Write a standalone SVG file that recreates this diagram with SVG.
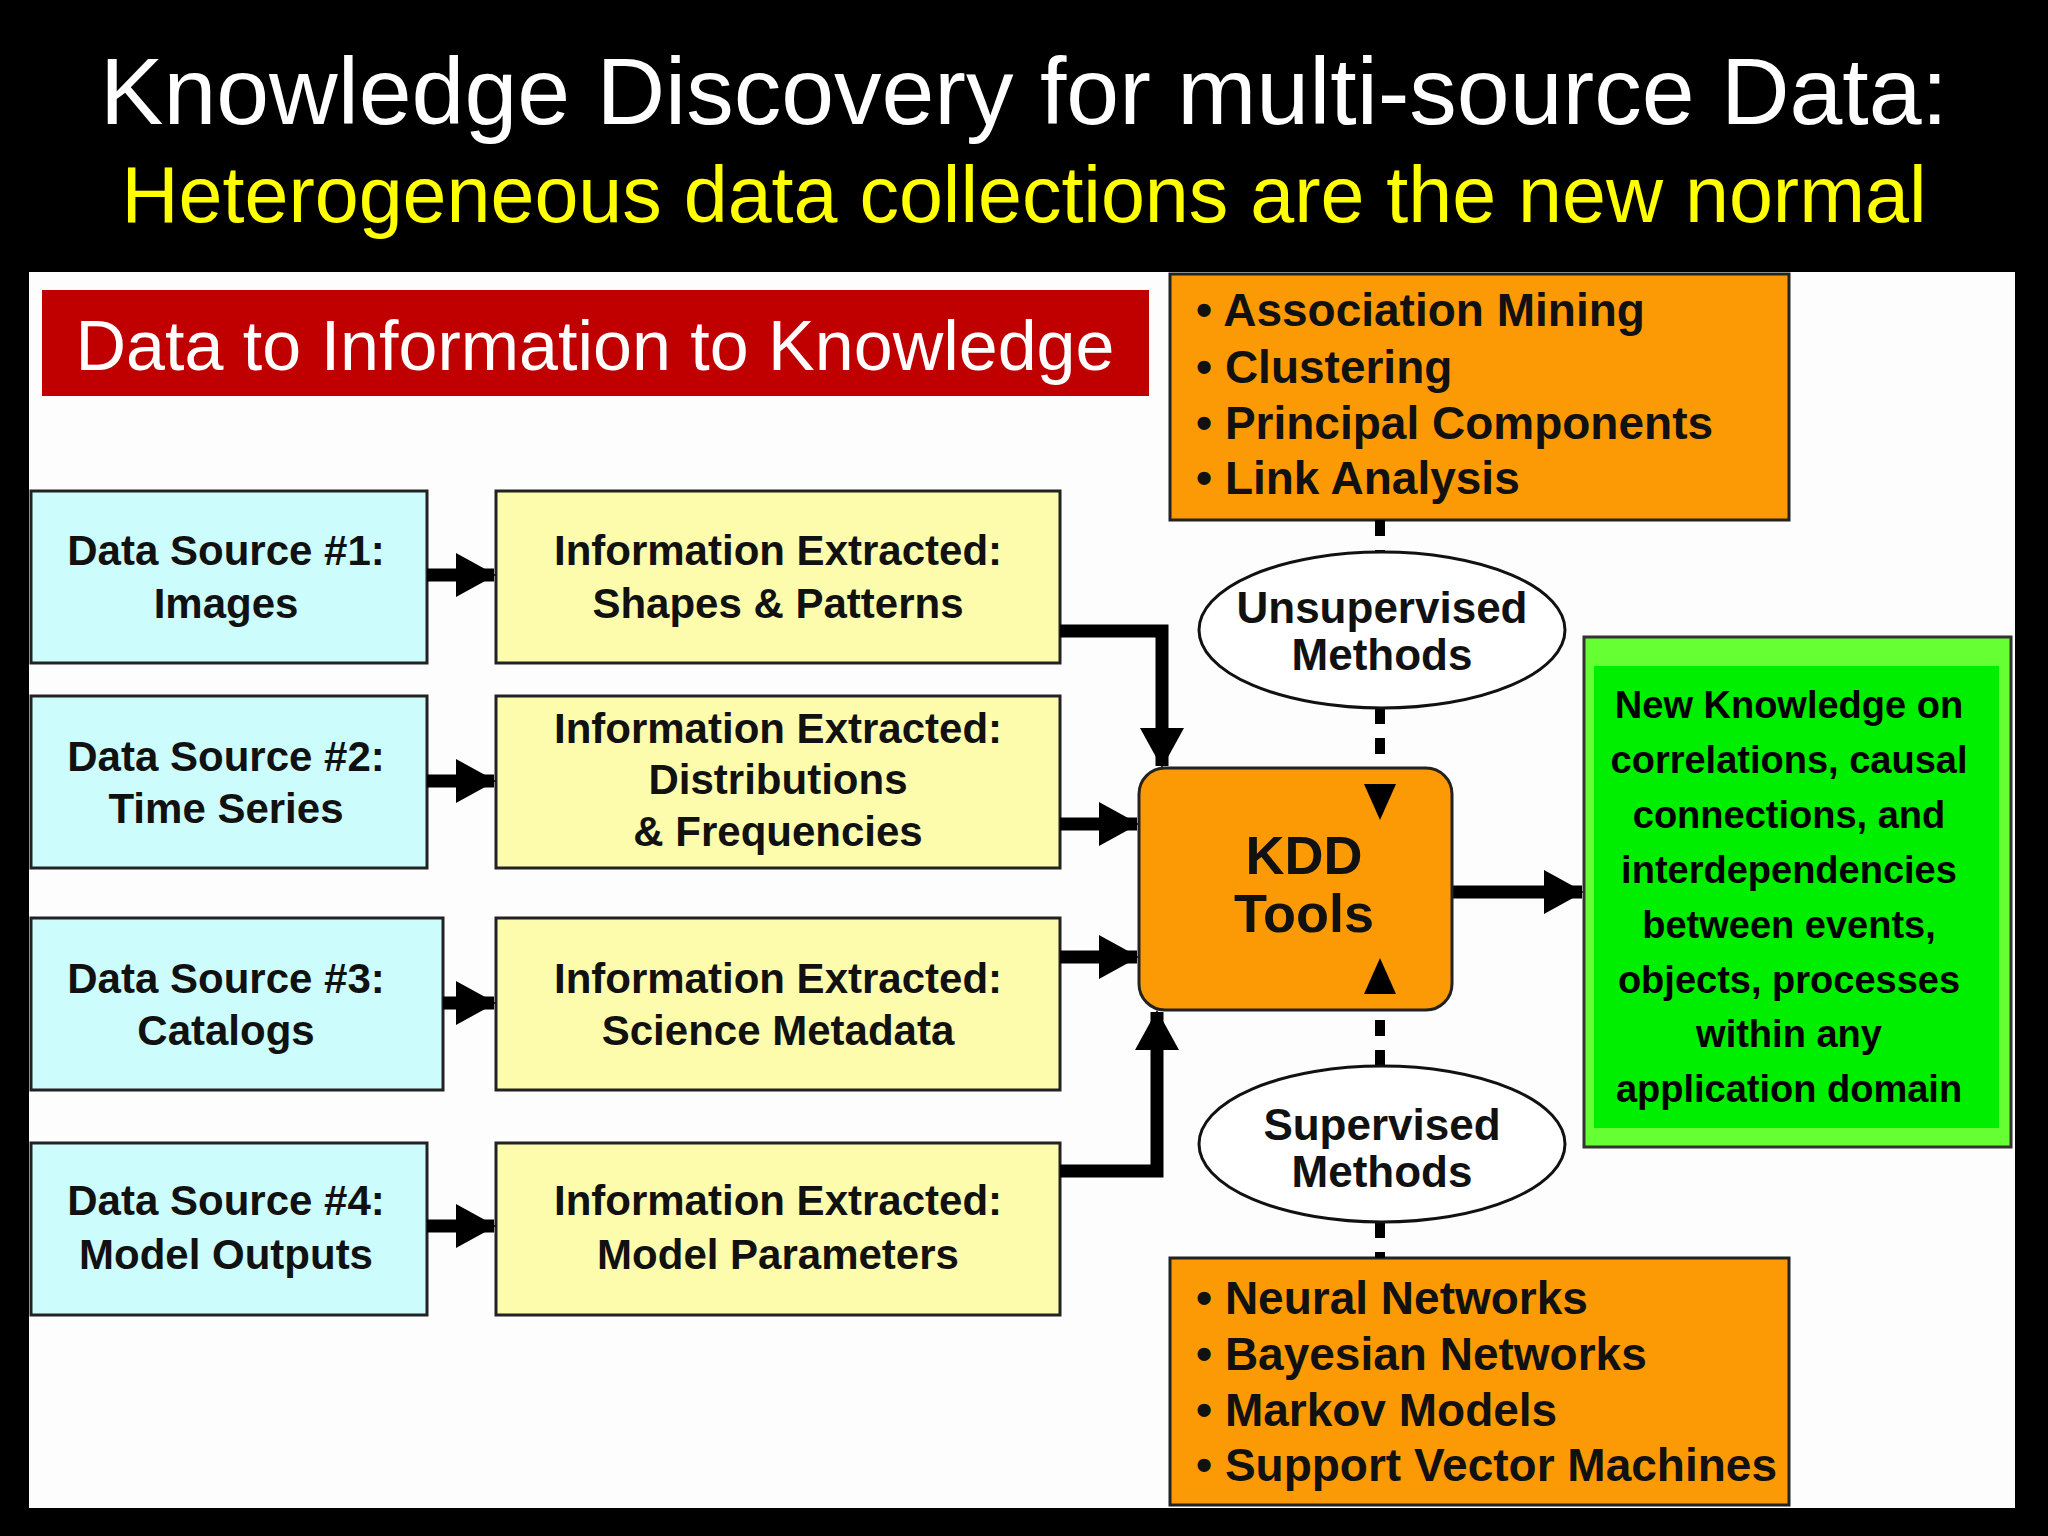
<svg xmlns="http://www.w3.org/2000/svg" width="2048" height="1536" viewBox="0 0 2048 1536">
<defs>
<marker id="ah" markerUnits="userSpaceOnUse" markerWidth="40" markerHeight="44" refX="38" refY="22" orient="auto"><path d="M0,0 L40,22 L0,44 Z" fill="#000"/></marker>
<style>
.t{font-family:"Liberation Sans",Arial,sans-serif;font-weight:bold;fill:#111;text-anchor:middle}
.b{font-size:42px}
.bl{font-family:"Liberation Sans",Arial,sans-serif;font-weight:bold;fill:#111;font-size:46px}
.src{fill:#ccfcfc;stroke:#222;stroke-width:3}
.inf{fill:#fcfcac;stroke:#222;stroke-width:3}
.org{fill:#fc9a05;stroke:#222;stroke-width:3}
.ell{fill:#fff;stroke:#111;stroke-width:3}
.c{fill:none;stroke:#000;stroke-width:13}
.d{fill:none;stroke:#000;stroke-width:10;stroke-dasharray:16 14}
</style>
</defs>
<rect width="2048" height="1536" fill="#000"/>
<text x="1024" y="124" font-family="Liberation Sans,Arial,sans-serif" font-size="95" fill="#fff" text-anchor="middle">Knowledge Discovery for multi-source Data:</text>
<text x="1024" y="222" font-family="Liberation Sans,Arial,sans-serif" font-size="79" fill="#ffff00" text-anchor="middle">Heterogeneous data collections are the new normal</text>
<rect x="29" y="272" width="1986" height="1236" fill="#fdfdfd"/>
<g id="banner"><rect x="42" y="290" width="1107" height="106" fill="#c00000"/>
<text x="595" y="370" font-family="Liberation Sans,Arial,sans-serif" font-size="70" fill="#fff" text-anchor="middle">Data to Information to Knowledge</text></g>

<g id="src1"><rect class="src" x="31" y="491" width="396" height="172"/><text class="t b" x="226" y="565">Data Source #1:</text><text class="t b" x="226" y="618">Images</text></g>
<g id="src2"><rect class="src" x="31" y="696" width="396" height="172"/><text class="t b" x="226" y="771">Data Source #2:</text><text class="t b" x="226" y="823">Time Series</text></g>
<g id="src3"><rect class="src" x="31" y="918" width="412" height="172"/><text class="t b" x="226" y="993">Data Source #3:</text><text class="t b" x="226" y="1045">Catalogs</text></g>
<g id="src4"><rect class="src" x="31" y="1143" width="396" height="172"/><text class="t b" x="226" y="1215">Data Source #4:</text><text class="t b" x="226" y="1269">Model Outputs</text></g>

<g id="inf1"><rect class="inf" x="496" y="491" width="564" height="172"/><text class="t b" x="778" y="565">Information Extracted:</text><text class="t b" x="778" y="618">Shapes &amp; Patterns</text></g>
<g id="inf2"><rect class="inf" x="496" y="696" width="564" height="172"/><text class="t b" x="778" y="743">Information Extracted:</text><text class="t b" x="778" y="794">Distributions</text><text class="t b" x="778" y="846">&amp; Frequencies</text></g>
<g id="inf3"><rect class="inf" x="496" y="918" width="564" height="172"/><text class="t b" x="778" y="993">Information Extracted:</text><text class="t b" x="778" y="1045">Science Metadata</text></g>
<g id="inf4"><rect class="inf" x="496" y="1143" width="564" height="172"/><text class="t b" x="778" y="1215">Information Extracted:</text><text class="t b" x="778" y="1269">Model Parameters</text></g>

<g id="unsup-list"><rect class="org" x="1170" y="274" width="619" height="246"/>
<text class="bl" x="1196" y="326">• Association Mining</text><text class="bl" x="1196" y="383">• Clustering</text><text class="bl" x="1196" y="439">• Principal Components</text><text class="bl" x="1196" y="494">• Link Analysis</text></g>
<g id="sup-list"><rect class="org" x="1170" y="1258" width="619" height="247"/>
<text class="bl" x="1196" y="1314">• Neural Networks</text><text class="bl" x="1196" y="1370">• Bayesian Networks</text><text class="bl" x="1196" y="1426">• Markov Models</text><text class="bl" x="1196" y="1481">• Support Vector Machines</text></g>

<g id="conn">
<path class="d" d="M1380,520 V552"/><path class="d" d="M1380,708 V790"/>
<path class="d" d="M1380,990 V1066"/><path class="d" d="M1380,1222 V1258"/>
<path class="c" d="M427,575 H494" marker-end="url(#ah)"/>
<path class="c" d="M427,781 H494" marker-end="url(#ah)"/>
<path class="c" d="M443,1003 H494" marker-end="url(#ah)"/>
<path class="c" d="M427,1226 H494" marker-end="url(#ah)"/>
<path class="c" d="M1060,631 H1162 V766" marker-end="url(#ah)"/>
<path class="c" d="M1060,824 H1137" marker-end="url(#ah)"/>
<path class="c" d="M1060,957 H1137" marker-end="url(#ah)"/>
<path class="c" d="M1060,1171 H1157 V1012" marker-end="url(#ah)"/>
<path class="c" d="M1452,892 H1582" marker-end="url(#ah)"/>
</g>

<g id="unsup"><ellipse class="ell" cx="1382" cy="630" rx="183" ry="78"/><text class="t" font-size="44" x="1382" y="623">Unsupervised</text><text class="t" font-size="44" x="1382" y="670">Methods</text></g>
<g id="sup"><ellipse class="ell" cx="1382" cy="1144" rx="183" ry="78"/><text class="t" font-size="44" x="1382" y="1140">Supervised</text><text class="t" font-size="44" x="1382" y="1187">Methods</text></g>

<g id="kdd"><rect x="1139" y="768" width="313" height="242" rx="26" fill="#fc9a05" stroke="#222" stroke-width="3"/>
<text class="t" font-size="54" x="1304" y="874">KDD</text><text class="t" font-size="54" x="1304" y="932">Tools</text>
<path d="M1364,784 L1396,784 L1380,820 Z" fill="#000"/><path d="M1364,994 L1396,994 L1380,958 Z" fill="#000"/></g>

<g id="knowledge"><rect x="1584" y="637" width="427" height="510" fill="#66ff33" stroke="#333" stroke-width="3"/>
<rect x="1594" y="666" width="405" height="462" fill="#00ee00"/>
<g class="t" font-size="38" style="fill:#000">
<text x="1789" y="718">New Knowledge on</text><text x="1789" y="773">correlations, causal</text><text x="1789" y="828">connections, and</text><text x="1789" y="883">interdependencies</text><text x="1789" y="938">between events,</text><text x="1789" y="993">objects, processes</text><text x="1789" y="1047">within any</text><text x="1789" y="1102">application domain</text></g></g>
</svg>
